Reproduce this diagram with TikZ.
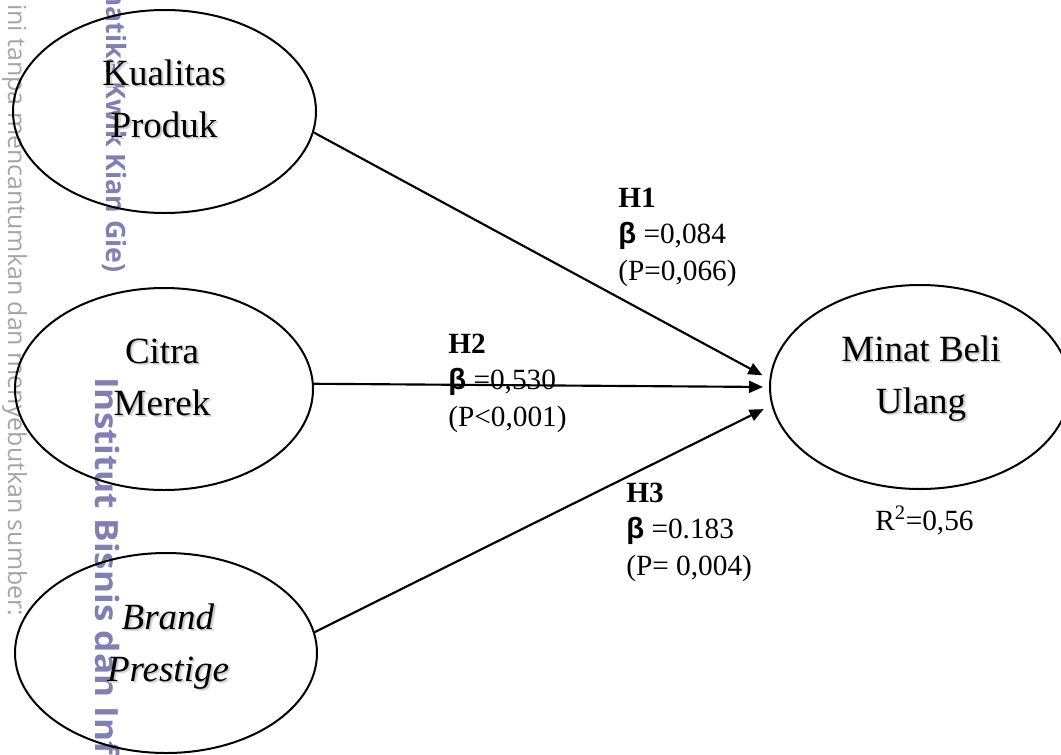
\documentclass[tikz,border=0pt]{standalone}
\usepackage{fontspec}
\usepackage{graphicx}
\setmainfont{Liberation Serif}
\newfontfamily\betafont{Liberation Sans}
\newfontfamily\wmfont{Open Sans}
\usetikzlibrary{shapes.geometric,arrows.meta}
\definecolor{wmgray}{RGB}{165,165,165}
\definecolor{wmblue}{RGB}{128,128,178}
\newcommand\shd[1]{\leavevmode\rlap{\kern1.8pt\raisebox{-1.8pt}{\textcolor{black!12}{#1}}}\rlap{\kern1.1pt\raisebox{-1.1pt}{\textcolor{black!20}{#1}}}#1}
\begin{document}
\begin{tikzpicture}[x=0.75pt,y=-0.75pt,
  ell/.style={draw, ellipse, line width=1.5pt, inner sep=0pt},
  etxt/.style={align=center, inner sep=0pt, font=\fontsize{27.75}{39}\selectfont},
  lbl/.style={align=left, inner sep=0pt, anchor=north west, font=\fontsize{22}{27.4}\selectfont},
  arr/.style={line width=1.6pt, -{Triangle[length=10.5pt,width=9pt]}},
  wm/.style={rotate=-90, inner sep=0pt}
]
\useasboundingbox (0,0) rectangle (1061,754);
\clip (0,0) rectangle (1061,754);
% watermark
\node[wm, anchor=base west, text=wmgray] (wm1) at (8,4)
  {\resizebox{459pt}{!}{\wmfont ini tanpa mencantumkan dan menyebutkan sumber:}};
\node[wm, anchor=base east, text=wmblue, font=\wmfont\bfseries\fontsize{20}{22}\selectfont] (wm2) at (106,273)
  {(Institut Bisnis dan Informatika Kwik Kian Gie)};
\node[wm, anchor=base west, text=wmblue, font=\wmfont\bfseries\fontsize{24}{26}\selectfont] (wm3) at (95,377)
  {\scalebox{1.1}[1]{Institut Bisnis dan Informatika Kwik Kian Gie}};
% ellipses
\node[ell, minimum width=227.25pt, minimum height=152.25pt] (kp) at (164.5,111.5) {};
\node[ell, minimum width=223.5pt, minimum height=151.5pt] (cm) at (164,389) {};
\node[ell, minimum width=226.5pt, minimum height=150pt] (bp) at (166,653) {};
\node[ell, minimum width=225pt, minimum height=153pt] (mb) at (920,387) {};
% ellipse texts
\node[etxt] (kpt) at (164,101) {\strut\shd{Kualitas}\\\strut\shd{Produk}};
\node[etxt] (cmt) at (162,378.6) {\strut\shd{Citra}\\\strut\shd{Merek}};
\node[etxt] (bpt) at (168,644.6) {\strut\shd{\textit{Brand}}\\\strut\shd{\textit{Prestige}}};
\node[etxt] (mbt) at (921,377) {\strut\shd{Minat Beli}\\\strut\shd{Ulang}};
% arrows
\draw[arr, shorten >=6pt] (kp.-8.5) -- (mb.177.5);
\draw[arr, shorten >=4.5pt] (cm.2.7) -- (mb.180.7);
\draw[arr, shorten >=6.5pt] (bp.8.5) -- (mb.187.6);
% labels
\node[lbl] (h1) at (618,181.5) {\strut\textbf{H1}\\\strut{\betafont\bfseries β} =0,084\\\strut(P=0,066)};
\node[lbl] (h2) at (448,327.5) {\strut\textbf{H2}\\\strut{\betafont\bfseries β} =0,530\\\strut(P<0,001)};
\node[lbl] (h3) at (626,476.5) {\strut\textbf{H3}\\\strut{\betafont\bfseries β} =0.183\\\strut(P= 0,004)};
\node[anchor=base west, inner sep=0pt, font=\fontsize{22}{27.4}\selectfont] (r2) at (875,530) {R\textsuperscript{2}=0,56};
\end{tikzpicture}
\end{document}
